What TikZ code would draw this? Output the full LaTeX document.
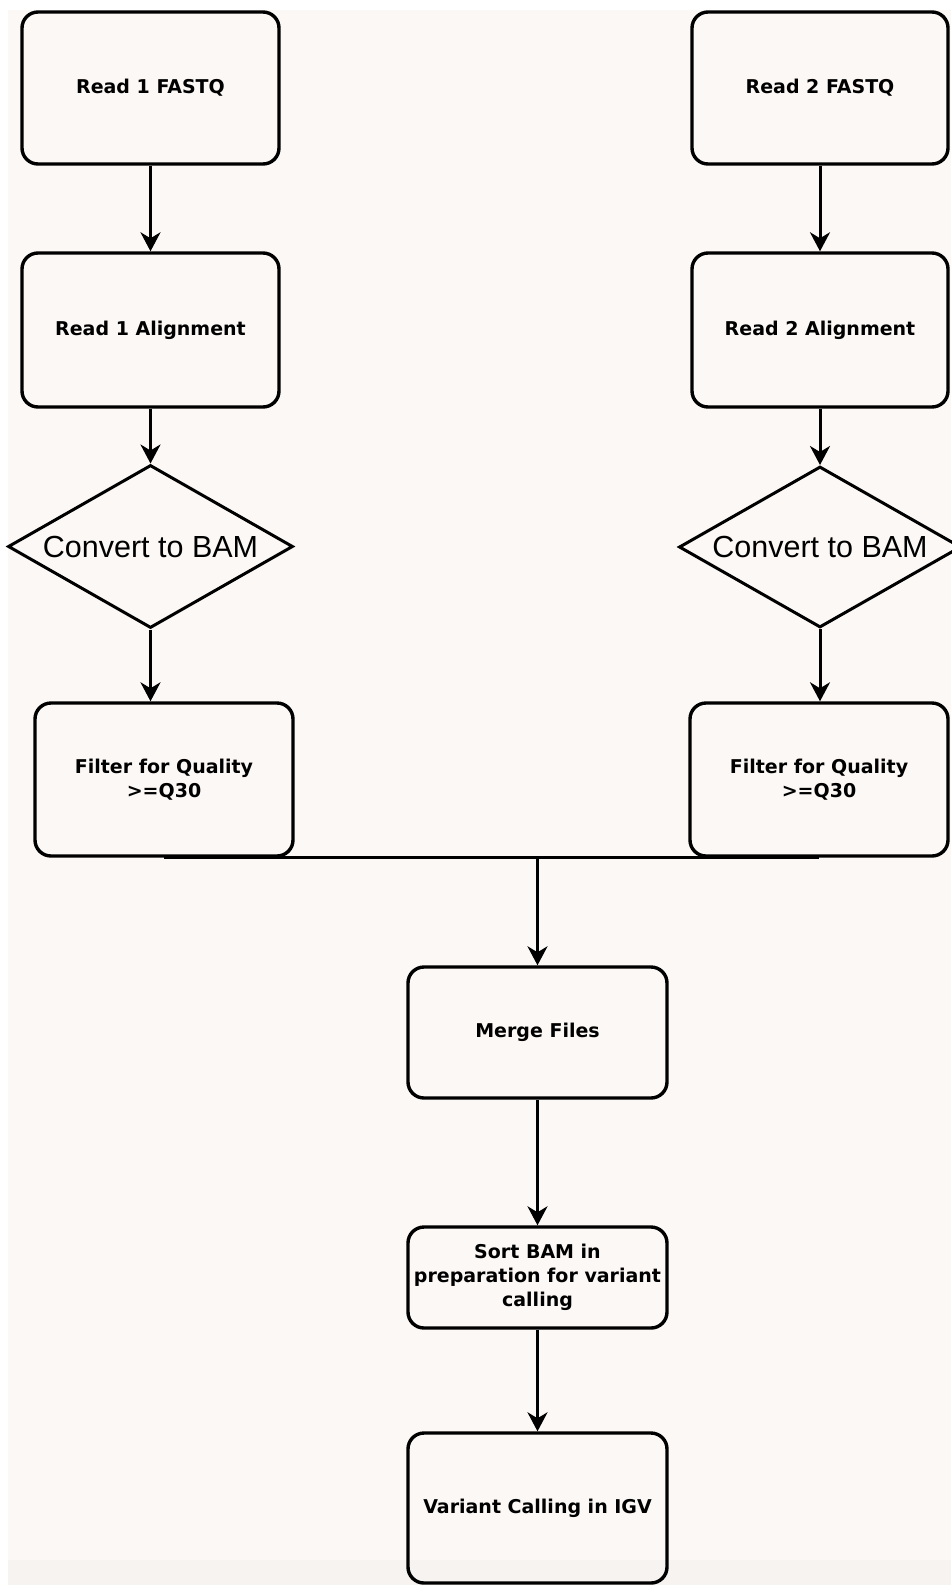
\documentclass[tikz,border=0pt]{standalone}
\usepackage{fontspec}
\usetikzlibrary{shapes.geometric,arrows.meta}
\newfontfamily\boxfont{DejaVu Sans}
\newfontfamily\bamfont{Liberation Sans}
\definecolor{bgcol}{RGB}{252,248,245}
\definecolor{bandcol}{RGB}{246,243,240}
\begin{document}
\begin{tikzpicture}[x=1pt,y=-1pt,
  proc/.style={draw=black, line width=3.4pt, rounded corners=16pt, inner sep=0pt,
    align=center, font=\boxfont\bfseries\fontsize{19}{24}\selectfont},
  decide/.style={draw=black, line width=3pt, shape=diamond, inner sep=0pt,
    font=\bamfont\fontsize{30.5}{36}\selectfont},
  arr/.style={line width=3pt, -{Stealth[length=19pt,width=20pt,inset=6pt]}},
  joinline/.style={line width=3.4pt}]
\useasboundingbox (0,0) rectangle (951,1585);
\fill[white] (0,0) rectangle (951,1585);
\fill[bgcol] (8,10) rectangle (951,1585);
\fill[bandcol] (8,1560) rectangle (951,1585);

% left column
\node[proc, minimum width=257pt, minimum height=152pt] (r1) at (150.5,88) {Read 1 FASTQ};
\node[proc, minimum width=257pt, minimum height=154pt] (a1) at (150.5,330) {Read 1 Alignment};
\node[decide, minimum width=285pt, minimum height=163pt, aspect=1.75] (d1) at (150.5,546.5) {Convert to BAM};
\node[proc, minimum width=258pt, minimum height=153pt] (f1) at (164,779.5) {Filter for Quality\\>=Q30};

% right column
\node[proc, minimum width=256pt, minimum height=152pt] (r2) at (820,88) {Read 2 FASTQ};
\node[proc, minimum width=256pt, minimum height=154pt] (a2) at (820,330) {Read 2 Alignment};
\node[decide, minimum width=282pt, minimum height=161pt, aspect=1.75] (d2) at (820,547) {Convert to BAM};
\node[proc, minimum width=258pt, minimum height=153pt] (f2) at (819,779.5) {Filter for Quality\\>=Q30};

% centre column
\node[proc, minimum width=259pt, minimum height=131pt] (m) at (537.5,1032.5) {Merge Files};
\node[proc, minimum width=259pt, minimum height=101pt] (s) at (537.5,1277.5) {Sort BAM in\\preparation for variant\\calling};
\node[proc, minimum width=259pt, minimum height=150pt] (v) at (537.5,1508) {Variant Calling in IGV};

% connectors
\draw[arr] (r1.south) -- (a1.north);
\draw[arr] (a1.south) -- (d1.north);
\draw[arr] (d1.south) -- (d1.south |- f1.north);
\draw[arr] (r2.south) -- (a2.north);
\draw[arr] (a2.south) -- (d2.north);
\draw[arr] (d2.south) -- (d2.south |- f2.north);
\draw[joinline] (f1.south) -- (f2.south);
\coordinate (j) at (m.north |- f1.south);
\draw[arr] (j) -- (m.north);
\draw[arr] (m.south) -- (s.north);
\draw[arr] (s.south) -- (v.north);
\end{tikzpicture}
\end{document}
